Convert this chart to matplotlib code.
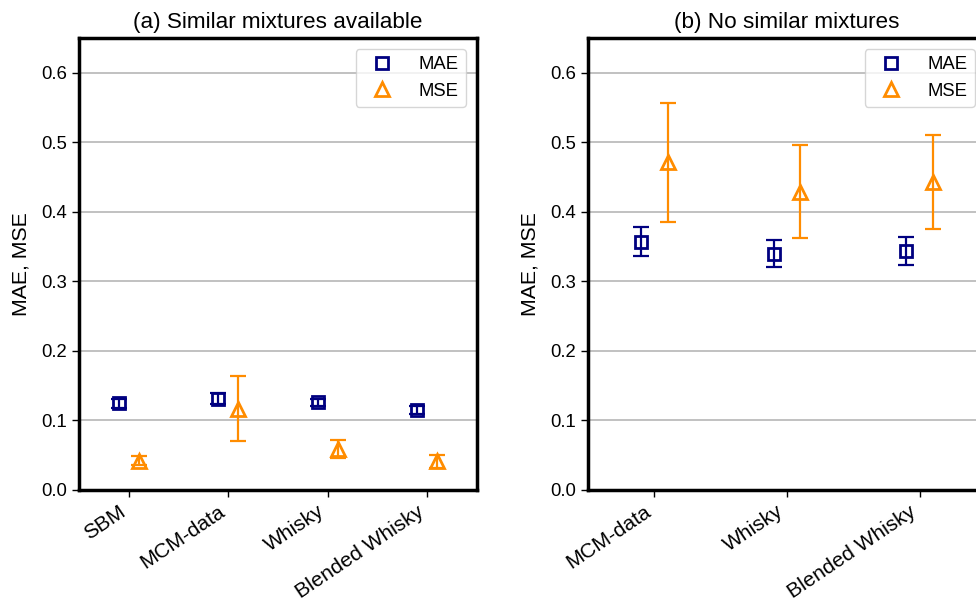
import matplotlib
matplotlib.use("Agg")
import matplotlib.pyplot as plt
import numpy as np

plt.rcParams['font.family'] = ['Liberation Sans', 'DejaVu Sans']

# Panel (a): similar mixtures available
cats_a = ["SBM", "MCM-data", "Whisky", "Blended Whisky"]
mae_a = [0.1245, 0.131, 0.1265, 0.115]
mae_err_a = [0.006, 0.008, 0.005, 0.0055]
mse_a = [0.042, 0.117, 0.059, 0.041]
mse_err_a = [0.0065, 0.047, 0.013, 0.009]

# Panel (b): no similar mixtures
cats_b = ["MCM-data", "Whisky", "Blended Whisky"]
mae_b = [0.357, 0.340, 0.344]
mae_err_b = [0.021, 0.020, 0.020]
mse_b = [0.471, 0.429, 0.443]
mse_err_b = [0.085, 0.067, 0.068]

titles = ["(a) Similar mixtures available", "(b) No similar mixtures"]
yticks = [0.0, 0.1, 0.2, 0.3, 0.4, 0.5, 0.6]

MAE_C = "#000080"
MSE_C = "#FF8C00"

fig = plt.figure(figsize=(9.76, 6.07), dpi=100)
axA = fig.add_axes([79/976, 117/607, 398/976, 452/607])
axB = fig.add_axes([588/976, 117/607, 398/976, 452/607])

panels = [(axA, cats_a, mae_a, mae_err_a, mse_a, mse_err_a, titles[0]),
          (axB, cats_b, mae_b, mae_err_b, mse_b, mse_err_b, titles[1])]

for ax, cats, mae, mae_err, mse, mse_err, title in panels:
    x = np.arange(len(cats))
    ax.errorbar(x - 0.1, mae, yerr=mae_err, fmt='none', ecolor=MAE_C,
                elinewidth=1.6, capsize=5.5, capthick=1.6, zorder=3)
    ax.errorbar(x + 0.1, mse, yerr=mse_err, fmt='none', ecolor=MSE_C,
                elinewidth=1.6, capsize=5.5, capthick=1.6, zorder=3)
    ax.plot(x - 0.1, mae, linestyle='none', marker='s', markersize=8.5,
            mfc='none', mec=MAE_C, mew=2, label='MAE', zorder=4)
    ax.plot(x + 0.1, mse, linestyle='none', marker='^', markersize=10,
            mfc='none', mec=MSE_C, mew=2, label='MSE', zorder=4)
    ax.set_xlim(-0.5, len(cats) - 0.5)
    ax.set_ylim(0, 0.65)
    ax.set_yticks(yticks)
    ax.set_yticklabels([f"{v:.1f}" for v in yticks])
    ax.set_xticks(x)
    ax.set_xticklabels(cats, rotation=34, ha='right')
    ax.tick_params(axis='both', length=5, width=1, direction='out')
    ax.tick_params(axis='y', labelsize=13.3)
    ax.tick_params(axis='x', labelsize=15)
    ax.yaxis.grid(True, color='#b0b0b0', linewidth=1.1)
    ax.set_axisbelow(True)
    for sp in ax.spines.values():
        sp.set_linewidth(2.5)
    ax.set_ylabel("MAE, MSE", fontsize=15.3, labelpad=8)
    ax.set_title(title, fontsize=16.2, pad=7)
    ax.legend(loc='upper right', fontsize=13.3, numpoints=1,
              handletextpad=1.0, borderaxespad=0.6)

fig.savefig("out.png", dpi=100)
